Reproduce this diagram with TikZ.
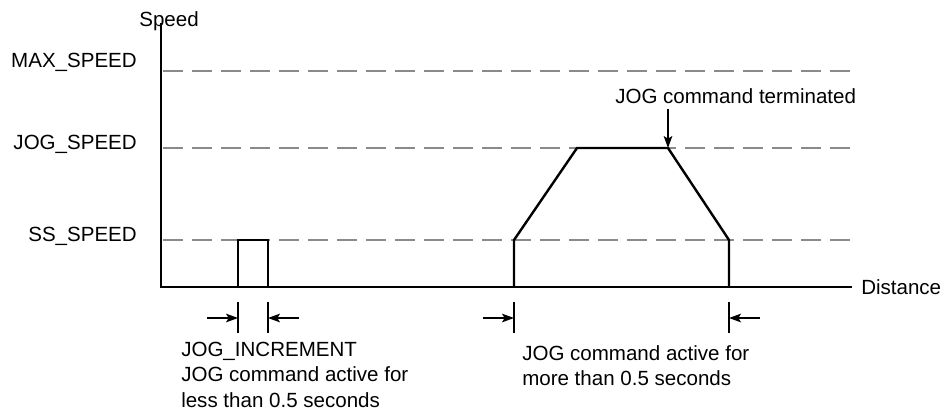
\documentclass[tikz,border=0pt]{standalone}
\usepackage{fontspec}
\setmainfont{Liberation Sans}
\usetikzlibrary{arrows.meta, positioning}
\definecolor{levelgray}{HTML}{8A8A8A}

\begin{document}
\begin{tikzpicture}[x=0.75pt, y=-0.75pt,
    lbl/.style={font=\fontsize{15.4}{19}\selectfont, inner sep=0pt},
    axis/.style={line width=0.8pt},
    level/.style={draw=levelgray, line width=0.8pt, dash pattern=on 15pt off 6.75pt},
    profile/.style={line width=1.8pt, line join=miter},
    dimtick/.style={line width=0.8pt},
    dimarrow/.style={line width=0.8pt, -{Stealth[length=9pt, width=6.5pt, inset=2pt]}},
]
    \useasboundingbox (0,0) rectangle (944,415);

    % Axes
    \coordinate (ytop) at (161,23);
    \coordinate (origin) at (161,287);
    \coordinate (xend) at (852,287);
    \draw[axis] (ytop) -- (origin) -- (xend);
    \node[lbl, anchor=base] (speed) at (169,26) {Speed};
    \node[lbl, anchor=west] (distance) at (861,287) {Distance};

    % Speed levels
    \coordinate (maxl) at (163,71);  \coordinate (maxr) at (852,71);
    \coordinate (jogl) at (163,148); \coordinate (jogr) at (852,148);
    \coordinate (ssl) at (163,240);  \coordinate (ssr) at (852,240);
    \draw[level] (maxl) -- (maxr);
    \draw[level] (jogl) -- (jogr);
    \draw[level] (ssl) -- (ssr);
    \node[lbl, anchor=base east] (maxspeed) at (137,67) {MAX\_SPEED};
    \node[lbl, anchor=base east] (jogspeed) at (137,149) {JOG\_SPEED};
    \node[lbl, anchor=base east] (ssspeed) at (137,241) {SS\_SPEED};

    % Short jog (increment)
    \coordinate (inc0) at (238,287);
    \coordinate (inc1) at (238,240);
    \coordinate (inc2) at (268,240);
    \coordinate (inc3) at (268,287);
    \draw[profile] (inc0) -- (inc1) -- (inc2) -- (inc3);

    % Long jog
    \coordinate (run0) at (514,287);
    \coordinate (run1) at (514,240);
    \coordinate (run2) at (577,148);
    \coordinate (run3) at (668,148);
    \coordinate (run4) at (729,240);
    \coordinate (run5) at (729,287);
    \draw[profile] (run0) -- (run1) -- (run2) -- (run3) -- (run4) -- (run5);
    \node[lbl, anchor=base west] (terminated) at (615,103) {JOG command terminated};
    \coordinate (termtop) at (668,109);
    \draw[dimarrow] (termtop) -- (run3);

    % Dimension marks, short jog
    \coordinate (ta0) at (238,302); \coordinate (ta1) at (238,333);
    \coordinate (tb0) at (268,302); \coordinate (tb1) at (268,333);
    \coordinate (aa) at (238,318);  \coordinate (ab) at (268,318);
    \coordinate (fa) at (207,318);  \coordinate (fb) at (299,318);
    \draw[dimtick] (ta0) -- (ta1);
    \draw[dimtick] (tb0) -- (tb1);
    \draw[dimarrow] (fa) -- (aa);
    \draw[dimarrow] (fb) -- (ab);
    \node[lbl, anchor=north west, align=left] (shorttxt) at (181,342)
        {JOG\_INCREMENT\\JOG command active for\\less than 0.5 seconds};

    % Dimension marks, long jog
    \coordinate (tc0) at (514,302); \coordinate (tc1) at (514,333);
    \coordinate (td0) at (729,302); \coordinate (td1) at (729,333);
    \coordinate (ac) at (514,318);  \coordinate (ad) at (729,318);
    \coordinate (fc) at (483,318);  \coordinate (fd) at (760,318);
    \draw[dimtick] (tc0) -- (tc1);
    \draw[dimtick] (td0) -- (td1);
    \draw[dimarrow] (fc) -- (ac);
    \draw[dimarrow] (fd) -- (ad);
    \node[lbl, anchor=north west, align=left] (longtxt) at (522,345)
        {JOG command active for\\more than 0.5 seconds};
\end{tikzpicture}
\end{document}
